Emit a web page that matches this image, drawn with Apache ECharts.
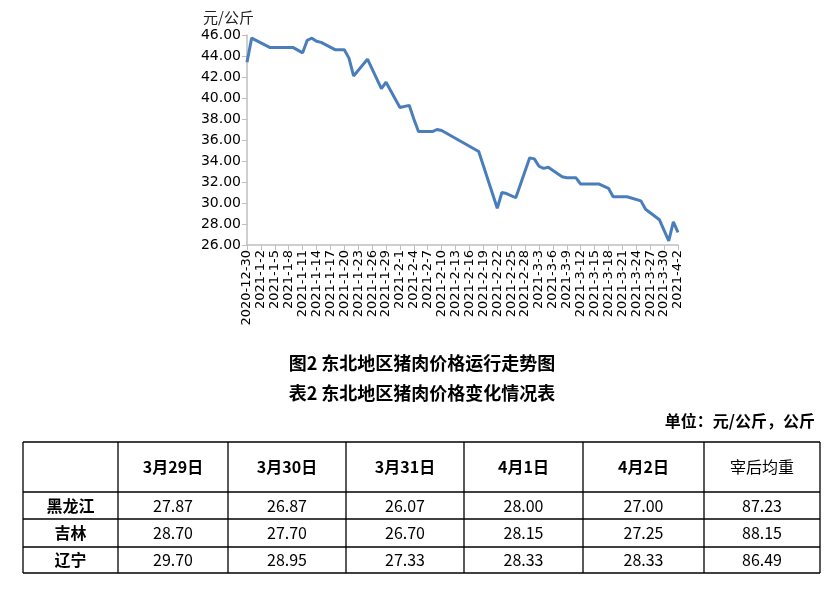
<!DOCTYPE html>
<html>
<head>
<meta charset="utf-8">
<script src="https://cdn.jsdelivr.net/npm/echarts@6/dist/echarts.min.js"></script>
<style>
html,body{margin:0;padding:0;background:#fff;}
#chart{width:836px;height:589px;}
</style>
</head>
<body>
<div id="chart"></div>
<script>
// ---- Chart data ----
const startDate = [2020, 12, 30];
const dayCount = 94;
const pointDates = ['2020-12-30','2020-12-31','2021-1-4','2021-1-9','2021-1-11','2021-1-12','2021-1-13','2021-1-14','2021-1-15','2021-1-18','2021-1-20','2021-1-21','2021-1-22','2021-1-25','2021-1-28','2021-1-29','2021-2-1','2021-2-3','2021-2-4','2021-2-5','2021-2-8','2021-2-9','2021-2-10','2021-2-18','2021-2-22','2021-2-23','2021-2-24','2021-2-26','2021-3-1','2021-3-2','2021-3-3','2021-3-4','2021-3-5','2021-3-8','2021-3-9','2021-3-11','2021-3-12','2021-3-16','2021-3-18','2021-3-19','2021-3-22','2021-3-25','2021-3-26','2021-3-29','2021-3-31','2021-4-1','2021-4-2'];
const pointValues = [43.4,45.7,44.8,44.8,44.3,45.5,45.7,45.4,45.3,44.6,44.6,43.8,42.1,43.7,40.9,41.5,39.1,39.3,38.0,36.8,36.8,37.0,36.9,34.9,29.5,31.0,30.9,30.5,34.3,34.2,33.5,33.3,33.4,32.5,32.4,32.4,31.8,31.8,31.4,30.6,30.6,30.2,29.4,28.4,26.4,28.2,27.2];
const yMin = 26, yMax = 46, yStep = 2;
const yUnit = '元/公斤';

// ---- Text & table data ----
const title1 = '图2 东北地区猪肉价格运行走势图';
const title2 = '表2 东北地区猪肉价格变化情况表';
const unitText = '单位：元/公斤，公斤';
const tableHeaders = ['', '3月29日', '3月30日', '3月31日', '4月1日', '4月2日', '宰后均重'];
const rowNames = ['黑龙江', '吉林', '辽宁'];
const rowHeilongjiang = ['27.87', '26.87', '26.07', '28.00', '27.00', '87.23'];
const rowJilin = ['28.70', '27.70', '26.70', '28.15', '27.25', '88.15'];
const rowLiaoning = ['29.70', '28.95', '27.33', '28.33', '28.33', '86.49'];
const tableRows = [rowHeilongjiang, rowJilin, rowLiaoning];

// categories (every calendar day)
const categories = [];
{
  const d = new Date(startDate[0], startDate[1] - 1, startDate[2]);
  for (let i = 0; i < dayCount; i++) {
    categories.push(d.getFullYear() + '-' + (d.getMonth() + 1) + '-' + d.getDate());
    d.setDate(d.getDate() + 1);
  }
}
const seriesData = pointDates.map((dt, i) => [dt, pointValues[i]]);

// ---- layout ----
const CJK = '"Noto Sans CJK SC", "Noto Sans", sans-serif';
const colX = [23, 118, 228, 346, 464, 583, 704, 820];
const rowY = [442, 492, 519, 547, 573];
const lineColor = '#000';

const graphics = [];
graphics.push({type:'text', left:203, top:10, style:{text:yUnit, font:'15px ' + CJK, fill:'#222'}});
graphics.push({type:'text', x:422, y:363, style:{text:title1, font:'bold 18px ' + CJK, fill:'#000', align:'center', verticalAlign:'middle'}});
graphics.push({type:'text', x:422, y:393, style:{text:title2, font:'bold 18px ' + CJK, fill:'#000', align:'center', verticalAlign:'middle'}});
graphics.push({type:'text', x:815, y:421, style:{text:unitText, font:'bold 16px ' + CJK, fill:'#000', align:'right', verticalAlign:'middle'}});

colX.forEach(x => graphics.push({type:'line', shape:{x1:x, y1:rowY[0], x2:x, y2:rowY[rowY.length-1]}, style:{stroke:lineColor, lineWidth:1.3}}));
rowY.forEach(y => graphics.push({type:'line', shape:{x1:colX[0], y1:y, x2:colX[colX.length-1], y2:y}, style:{stroke:lineColor, lineWidth:1.3}}));

tableHeaders.forEach((h, c) => {
  if (!h) return;
  const bold = c < tableHeaders.length - 1;
  graphics.push({type:'text', x:(colX[c] + colX[c+1]) / 2, y:(rowY[0] + rowY[1]) / 2,
    style:{text:h, font:(bold ? 'bold ' : '') + '16px ' + CJK, fill:'#000', align:'center', verticalAlign:'middle'}});
});
rowNames.forEach((name, r) => {
  const cy = (rowY[r+1] + rowY[r+2]) / 2;
  graphics.push({type:'text', x:(colX[0] + colX[1]) / 2, y:cy,
    style:{text:name, font:'bold 16px ' + CJK, fill:'#000', align:'center', verticalAlign:'middle'}});
  tableRows[r].forEach((v, c) => {
    graphics.push({type:'text', x:(colX[c+1] + colX[c+2]) / 2, y:cy,
      style:{text:v, font:'16px ' + CJK, fill:'#000', align:'center', verticalAlign:'middle'}});
  });
});

const chart = echarts.init(document.getElementById('chart'), null, {renderer:'canvas'});
chart.setOption({
  animation: false,
  backgroundColor: '#fff',
  grid: {left:247, right:158, top:35, bottom:344, containLabel:false},
  xAxis: {
    type:'category', data:categories, boundaryGap:false,
    axisLine:{show:true, lineStyle:{color:'#bfbfbf', width:1.5}},
    axisTick:{show:true, interval:2, length:5, lineStyle:{color:'#bfbfbf'}},
    axisLabel:{interval:2, rotate:90, fontSize:13, fontFamily:'"DejaVu Sans", sans-serif', color:'#000', margin:5}
  },
  yAxis: {
    type:'value', min:yMin, max:yMax, interval:yStep,
    axisLine:{show:true, lineStyle:{color:'#bfbfbf', width:1.5}},
    axisTick:{show:true, length:5, lineStyle:{color:'#bfbfbf'}},
    splitLine:{show:false},
    axisLabel:{formatter: v => v.toFixed(2), fontSize:14, fontFamily:'"DejaVu Sans", sans-serif', color:'#000', margin:6}
  },
  series: [{
    type:'line', data:seriesData, showSymbol:false, symbol:'none',
    lineStyle:{color:'#4a7ebb', width:3}, itemStyle:{color:'#4a7ebb'}
  }],
  graphic: graphics
});
</script>
</body>
</html>
